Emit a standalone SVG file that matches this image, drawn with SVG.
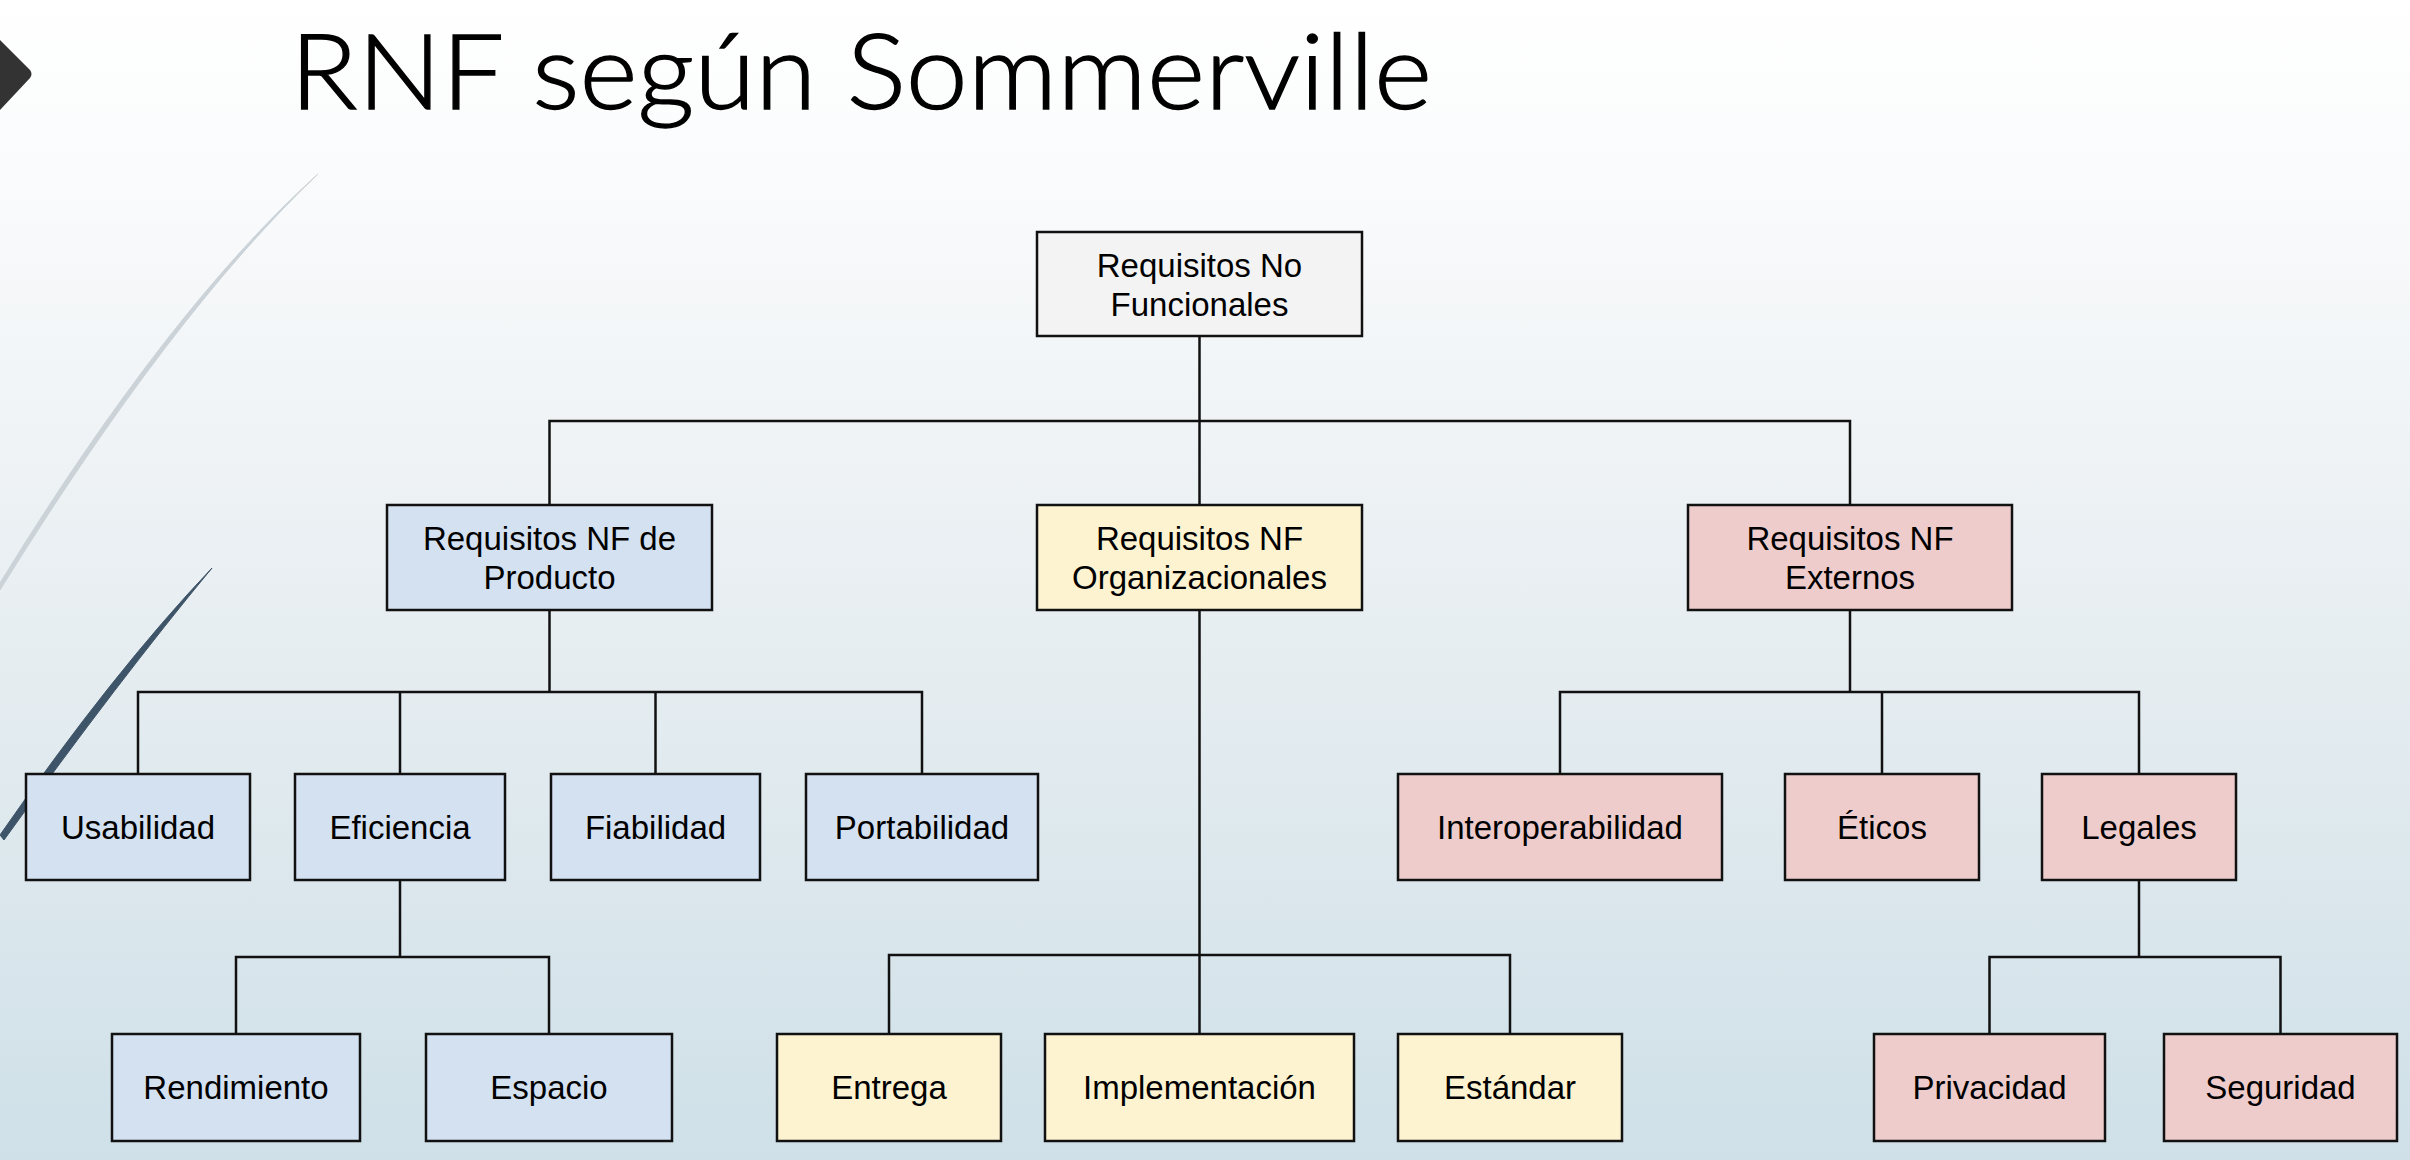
<svg xmlns="http://www.w3.org/2000/svg" width="2410" height="1160" viewBox="0 0 2410 1160">
<defs>
<linearGradient id="bg" x1="0" y1="0" x2="0" y2="1">
<stop offset="0" stop-color="#ffffff"/>
<stop offset="0.15" stop-color="#fafbfc"/>
<stop offset="0.5" stop-color="#e9eff2"/>
<stop offset="1" stop-color="#cfe0e8"/>
</linearGradient>
<style>
.box{stroke:#111;stroke-width:2.5}
.root{fill:#f3f3f3}
.prod{fill:#d4e1f1}
.org{fill:#fdf3d1}
.ext{fill:#eecccc}
.t{font-family:"Liberation Sans",Arial,sans-serif;font-size:33px;fill:#000;text-anchor:middle}
.c{fill:none;stroke:#111;stroke-width:2.5}
</style>
</defs>
<rect x="0" y="0" width="2410" height="1160" fill="url(#bg)"/>
<g id="decor">
<path d="M318,174 Q168,309 0,583 L0,590 Q172,313 318,174 Z" fill="#cbd3d8" stroke="#cbd3d8" stroke-width="1"/>
<path d="M212,568 Q113,672 0,835 L4,840 Q120,679 212,568 Z" fill="#3e5468" stroke="#3e5468" stroke-width="1"/>
<path d="M0,40 L30,70 Q33,74 30,78 L0,110 Z" fill="#333333"/>
</g>
<text id="title" x="290" y="109" font-family="Lato,'Open Sans',sans-serif" font-weight="300" font-size="104" fill="#000" stroke="#000" stroke-width="1.3" textLength="1142" lengthAdjust="spacingAndGlyphs">RNF según Sommerville</text>
<g id="connectors">
<path class="c" d="M1199.5,336 V505"/>
<path class="c" d="M549.5,505 V421 H1850 V505"/>
<path class="c" d="M549.5,610 V692"/>
<path class="c" d="M138,774 V692 H922 V774 M400,692 V774 M655.5,692 V774"/>
<path class="c" d="M1850,610 V692"/>
<path class="c" d="M1560,774 V692 H2139 V774 M1882,692 V774"/>
<path class="c" d="M400,880 V957"/>
<path class="c" d="M236,1034 V957 H549 V1034"/>
<path class="c" d="M1199.5,610 V1034"/>
<path class="c" d="M889,1034 V955 H1510 V1034"/>
<path class="c" d="M2139,880 V957"/>
<path class="c" d="M1989.5,1034 V957 H2280.5 V1034"/>
</g>
<g id="n-root"><rect class="box root" x="1037" y="232" width="325" height="104"/><text class="t" x="1199.5" y="277">Requisitos No</text><text class="t" x="1199.5" y="316">Funcionales</text></g>
<g id="n-producto"><rect class="box prod" x="387" y="505" width="325" height="105"/><text class="t" x="549.5" y="550">Requisitos NF de</text><text class="t" x="549.5" y="589">Producto</text></g>
<g id="n-organizacionales"><rect class="box org" x="1037" y="505" width="325" height="105"/><text class="t" x="1199.5" y="550">Requisitos NF</text><text class="t" x="1199.5" y="589">Organizacionales</text></g>
<g id="n-externos"><rect class="box ext" x="1688" y="505" width="324" height="105"/><text class="t" x="1850" y="550">Requisitos NF</text><text class="t" x="1850" y="589">Externos</text></g>
<g id="n-usabilidad"><rect class="box prod" x="26" y="774" width="224" height="106"/><text class="t" x="138" y="839">Usabilidad</text></g>
<g id="n-eficiencia"><rect class="box prod" x="295" y="774" width="210" height="106"/><text class="t" x="400" y="839">Eficiencia</text></g>
<g id="n-fiabilidad"><rect class="box prod" x="551" y="774" width="209" height="106"/><text class="t" x="655.5" y="839">Fiabilidad</text></g>
<g id="n-portabilidad"><rect class="box prod" x="806" y="774" width="232" height="106"/><text class="t" x="922" y="839">Portabilidad</text></g>
<g id="n-interoperabilidad"><rect class="box ext" x="1398" y="774" width="324" height="106"/><text class="t" x="1560" y="839">Interoperabilidad</text></g>
<g id="n-eticos"><rect class="box ext" x="1785" y="774" width="194" height="106"/><text class="t" x="1882" y="839">Éticos</text></g>
<g id="n-legales"><rect class="box ext" x="2042" y="774" width="194" height="106"/><text class="t" x="2139" y="839">Legales</text></g>
<g id="n-rendimiento"><rect class="box prod" x="112" y="1034" width="248" height="107"/><text class="t" x="236" y="1099">Rendimiento</text></g>
<g id="n-espacio"><rect class="box prod" x="426" y="1034" width="246" height="107"/><text class="t" x="549" y="1099">Espacio</text></g>
<g id="n-entrega"><rect class="box org" x="777" y="1034" width="224" height="107"/><text class="t" x="889" y="1099">Entrega</text></g>
<g id="n-implementacion"><rect class="box org" x="1045" y="1034" width="309" height="107"/><text class="t" x="1199.5" y="1099">Implementación</text></g>
<g id="n-estandar"><rect class="box org" x="1398" y="1034" width="224" height="107"/><text class="t" x="1510" y="1099">Estándar</text></g>
<g id="n-privacidad"><rect class="box ext" x="1874" y="1034" width="231" height="107"/><text class="t" x="1989.5" y="1099">Privacidad</text></g>
<g id="n-seguridad"><rect class="box ext" x="2164" y="1034" width="233" height="107"/><text class="t" x="2280.5" y="1099">Seguridad</text></g>
</svg>
